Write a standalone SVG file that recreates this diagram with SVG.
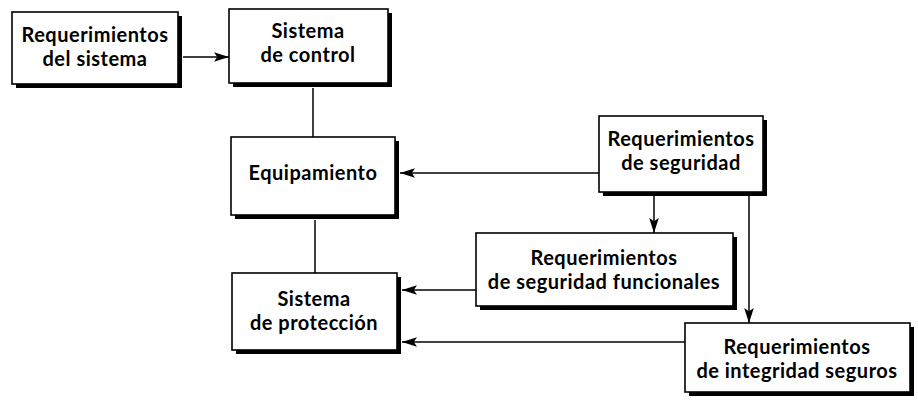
<svg xmlns="http://www.w3.org/2000/svg" width="918" height="400" viewBox="0 0 918 400">
<style>
.shadow{fill:#000}
.box{fill:#fff;stroke:#000;stroke-width:1.6}
.lbl{font-family:Lato,"Open Sans","Liberation Sans",sans-serif;font-weight:700;font-size:20px;letter-spacing:0.5px;fill:#000;text-anchor:middle}
.conn{stroke:#000;stroke-width:1.5;fill:none}
</style>
<defs>
<marker id="arr" viewBox="0 0 14 10" refX="14" refY="5" markerWidth="15" markerHeight="11" markerUnits="userSpaceOnUse" orient="auto">
<path d="M0,0.5 L14,5 L0,9.5 L3,5 Z" fill="#000"/>
</marker>
</defs>
<rect width="918" height="400" fill="#fff"/>
<g id="connectors">
<line class="conn" x1="183" y1="57" x2="229" y2="57" marker-end="url(#arr)"/>
<line class="conn" x1="313" y1="88" x2="313" y2="137"/>
<line class="conn" x1="315" y1="220" x2="315" y2="273"/>
<line class="conn" x1="599" y1="173" x2="400" y2="173" marker-end="url(#arr)"/>
<line class="conn" x1="654" y1="196" x2="654" y2="233" marker-end="url(#arr)"/>
<line class="conn" x1="749" y1="196" x2="749" y2="323" marker-end="url(#arr)"/>
<line class="conn" x1="476" y1="290" x2="402" y2="290" marker-end="url(#arr)"/>
<line class="conn" x1="685" y1="342" x2="402" y2="342" marker-end="url(#arr)"/>
</g>
<g id="req-sistema">
<rect class="shadow" x="16" y="16" width="166" height="72"/>
<rect class="box" x="12" y="12" width="166" height="72"/>
<text class="lbl" x="95" y="42">Requerimientos</text>
<text class="lbl" x="95" y="66">del sistema</text>
</g>
<g id="sistema-control">
<rect class="shadow" x="233" y="13" width="159" height="74"/>
<rect class="box" x="229" y="9" width="159" height="74"/>
<text class="lbl" x="308" y="38">Sistema</text>
<text class="lbl" x="308" y="62">de control</text>
</g>
<g id="equipamiento">
<rect class="shadow" x="235" y="141" width="164" height="78"/>
<rect class="box" x="231" y="137" width="164" height="78"/>
<text class="lbl" x="313" y="180">Equipamiento</text>
</g>
<g id="req-seguridad">
<rect class="shadow" x="603" y="120" width="164" height="76"/>
<rect class="box" x="599" y="116" width="164" height="76"/>
<text class="lbl" x="681" y="146">Requerimientos</text>
<text class="lbl" x="681" y="170">de seguridad</text>
</g>
<g id="req-seg-funcionales">
<rect class="shadow" x="480" y="237" width="257" height="73"/>
<rect class="box" x="476" y="233" width="257" height="73"/>
<text class="lbl" x="604" y="265">Requerimientos</text>
<text class="lbl" x="604" y="289">de seguridad funcionales</text>
</g>
<g id="sistema-proteccion">
<rect class="shadow" x="236" y="277" width="165" height="77"/>
<rect class="box" x="232" y="273" width="165" height="77"/>
<text class="lbl" x="314" y="306">Sistema</text>
<text class="lbl" x="314" y="330">de protección</text>
</g>
<g id="req-integridad">
<rect class="shadow" x="689" y="327" width="225" height="69"/>
<rect class="box" x="685" y="323" width="225" height="69"/>
<text class="lbl" x="797" y="354">Requerimientos</text>
<text class="lbl" x="797" y="378">de integridad seguros</text>
</g>
</svg>
